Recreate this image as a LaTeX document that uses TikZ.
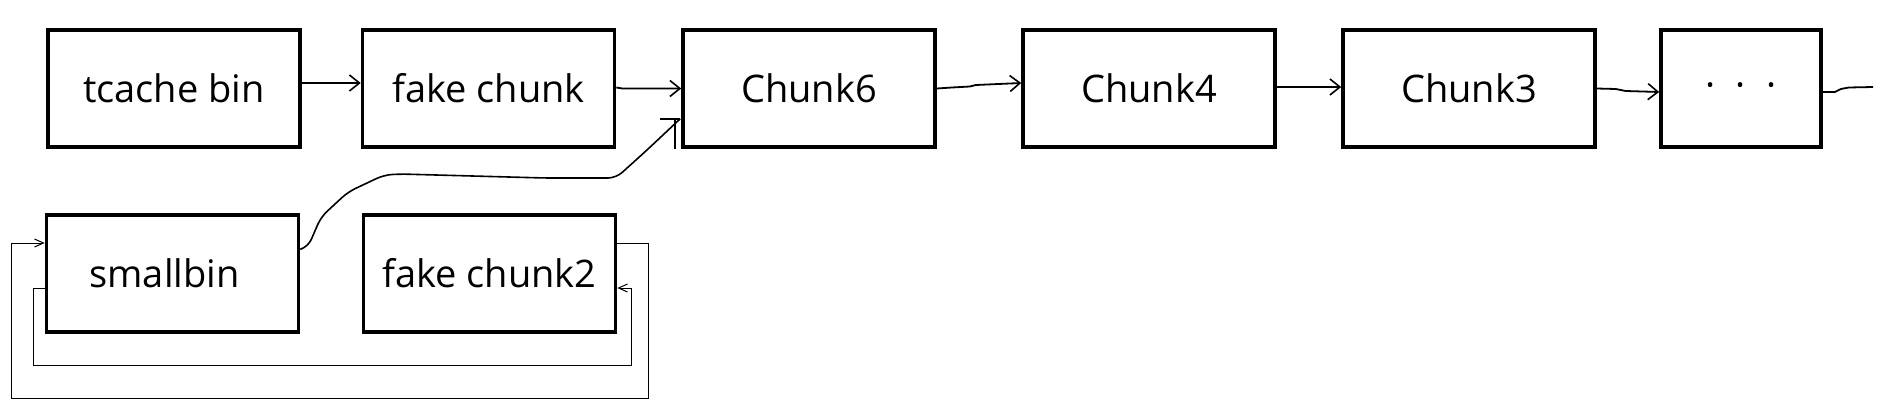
\documentclass[tikz,border=0pt]{standalone}
\usepackage{fontspec}
\setmainfont{Open Sans}
\usetikzlibrary{arrows.meta,calc}
\begin{document}
\begin{tikzpicture}[x=0.5pt,y=-0.5pt,
  box/.style={draw,line width=1.8pt,minimum width=126pt,minimum height=58.5pt,inner sep=0pt,font=\fontsize{19}{22}\selectfont},
  conn/.style={line width=0.9pt,-{Straight Barb[length=5pt,width=8pt,line width=0.8pt]}},
  loopline/.style={line width=0.5pt,-{Straight Barb[length=4.5pt,width=4pt,line width=0.5pt]}},
  curveline/.style={line width=0.8pt}]
\useasboundingbox (0,0) rectangle (1900,412);
\node[box] (tb) at (174,88.5) {tcache bin};
\node[box] (fc) at (488.5,88.5) {fake chunk};
\node[box] (c6) at (809,88.5) {Chunk6};
\node[box] (c4) at (1149,88.5) {Chunk4};
\node[box] (c3) at (1469,88.5) {Chunk3};
\node[box,minimum width=80pt,text height=0pt,text depth=0pt] (dt) at (1741,88.5) {};
\node[font=\fontsize{19}{22}\selectfont,inner sep=0pt] (dtx) at ($(dt.center)+(0,2)$) {·\hspace{10pt}·\hspace{10pt}·};
\node[box] (sb) at (172.5,273.5) {\hspace{-8pt}smallbin};
\node[box] (fc2) at (489.5,273.5) {fake chunk2};
% top chain
\draw[conn] ($(tb.east)+(0,-5.5)$) -- ($(fc.west)+(0,-5.5)$);
\draw[conn] ($(fc.east)+(0,-1)$) -- ++(6,1) -- (c6.west);
\draw[conn] (c6.east) -- ++(15,-1) -- ++(18,-1) -- ++(6,-1.5) -- ($(c4.west)+(0,-5.5)$);
\draw[conn] ($(c4.east)+(0,-1.5)$) -- ($(c3.west)+(0,-1.5)$);
\draw[conn] (c3.east) -- ++(19,0.5) -- ++(10,2) -- ($(dt.west)+(0,3.5)$);
\coordinate (tail) at (1873,87);
\draw[line width=0.9pt] ($(dt.east)+(0,3.5)$) -- ++(12,0) -- ++(6,-3) -- ++(8,-1.5) -- (tail);
% curve smallbin -> Chunk6
\coordinate (tip) at ($(c6.south west)+(-1,-30)$);
\draw[curveline,rounded corners=4pt] ($(sb.east)+(1,-24.5)$) -- (308,247) -- (321,217) -- (348,192) -- (384,175) -- (400,174) -- (545,178) -- (616,178) -- (647,150) -- (tip);
\draw[curveline] ($(tip)+(-20,0)$) -- (tip);
\draw[curveline] ($(tip)+(-5,0)$) -- ($(tip)+(-5,30)$);
% loops
\draw[loopline] ($(fc2.east)+(0,-30.5)$) -- (648,243) -- (648,398) -- (11,398) -- (11,243) -- ($(sb.west)+(0,-30.5)$);
\draw[loopline] ($(sb.west)+(0,14.5)$) -- (33,288) -- (33,365) -- (631,365) -- (631,288) -- ($(fc2.east)+(0,14.5)$);
\end{tikzpicture}
\end{document}
